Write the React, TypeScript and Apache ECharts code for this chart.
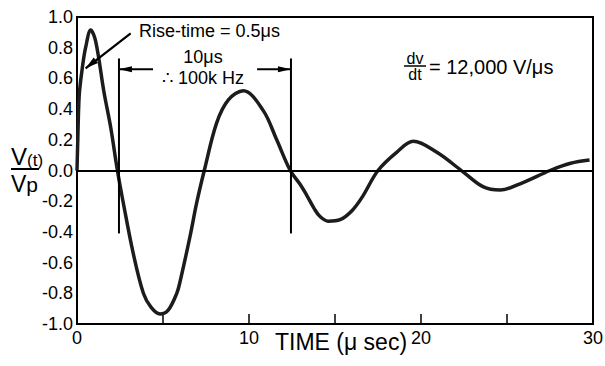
import React, { useEffect, useRef } from "react";
import * as echarts from "echarts";

// Time axis (µs) and normalised voltage V(t)/Vp
const timeUs = [
  0, 0.05, 0.1, 0.15, 0.31, 0.5, 0.8, 1.09, 1.57, 1.96, 2.35, 2.69, 3.27, 3.86, 4.3, 4.83,
  5.3, 5.8, 6.0, 6.57, 6.96, 7.4, 8.12, 8.8, 9.67, 10.83, 11.61, 12.4, 12.97, 13.35, 13.8,
  14.13, 14.6, 15.3, 16.0, 16.6, 17.5, 18.6, 19.55, 20.9, 22.46, 23.6, 24.6, 25.9, 27.5,
  28.7, 29.8,
];
const voltage = [
  0, 0.22, 0.42, 0.52, 0.67, 0.8, 0.915, 0.84, 0.51, 0.28, 0.0, -0.21, -0.54, -0.8, -0.89,
  -0.935, -0.91, -0.8, -0.72, -0.43, -0.21, 0.0, 0.31, 0.46, 0.52, 0.39, 0.2, 0.0, -0.09,
  -0.16, -0.25, -0.3, -0.33, -0.32, -0.26, -0.17, 0.0, 0.12, 0.19, 0.12, -0.01, -0.105,
  -0.127, -0.08, 0.0, 0.047, 0.068,
];

// Axis settings
const xMin = 0;
const xMax = 30;
const xStep = 5;
const xLabelled = [0, 10, 20, 30];
const yMin = -1;
const yMax = 1;
const yStep = 0.2;

// Annotation anchors (data coordinates)
const periodMarkers = [2.44, 12.44];
const markerTop = 0.73;
const markerBottom = -0.41;
const arrowLevel = 0.66;
const arrowLeftTail = 4.42;
const arrowRightTail = 10.47;
const riseArrowFrom = [3.12, 0.894];
const riseArrowTo = [0.5, 0.666];

const FONT = "'Liberation Sans', Arial, Helvetica, sans-serif";

function arrowHead(tail: number[], tip: number[], len: number, wid: number) {
  const dx = tip[0] - tail[0];
  const dy = tip[1] - tail[1];
  const d = Math.hypot(dx, dy) || 1;
  const ux = dx / d;
  const uy = dy / d;
  const bx = tip[0] - ux * len;
  const by = tip[1] - uy * len;
  const nx = -uy * (wid / 2);
  const ny = ux * (wid / 2);
  return [
    [tip[0], tip[1]],
    [bx + nx, by + ny],
    [bx - nx, by - ny],
  ];
}

export default function App() {
  const ref = useRef<HTMLDivElement>(null);

  useEffect(() => {
    if (!ref.current) return;
    const chart = echarts.init(ref.current, null, { renderer: "svg" });
    const data = timeUs.map((t, i) => [t, voltage[i]]);

    chart.setOption({
      animation: false,
      backgroundColor: "#ffffff",
      grid: {
        left: 77,
        right: 12,
        top: 17,
        bottom: 42,
        show: true,
        borderColor: "#000",
        borderWidth: 2,
        backgroundColor: "transparent",
        containLabel: false,
        outerBoundsMode: "none",
      },
      xAxis: {
        type: "value",
        min: xMin,
        max: xMax,
        interval: xStep,
        axisLine: { show: true, onZero: false, lineStyle: { color: "#000", width: 2 } },
        axisTick: { show: true, inside: true, length: 10, lineStyle: { color: "#000", width: 1.5 } },
        splitLine: { show: false },
        axisLabel: {
          color: "#000",
          fontFamily: FONT,
          fontSize: 18,
          margin: 5,
          formatter: (v: number) => (xLabelled.includes(v) ? String(v) : ""),
        },
        name: "TIME (\u03bc sec)",
        nameLocation: "middle",
        nameGap: 6,
        nameMoveOverlap: false,
        nameTextStyle: {
          color: "#000",
          fontFamily: FONT,
          fontSize: 23,
          verticalAlign: "top",
          padding: [0, 0, 0, 12],
        },
      },
      yAxis: {
        type: "value",
        min: yMin,
        max: yMax,
        interval: yStep,
        axisLine: { show: true, onZero: false, lineStyle: { color: "#000", width: 2 } },
        axisTick: { show: false },
        splitLine: { show: false },
        axisLabel: {
          color: "#000",
          fontFamily: FONT,
          fontSize: 18,
          margin: 4,
          formatter: (v: number) => v.toFixed(1),
        },
      },
      series: [
        {
          type: "line",
          data,
          smooth: 0.35,
          showSymbol: false,
          symbol: "none",
          lineStyle: { color: "#1c1c1c", width: 3.5 },
          markLine: {
            silent: true,
            symbol: "none",
            label: { show: false },
            lineStyle: { color: "#000", width: 2, type: "solid" },
            data: [{ yAxis: 0 }],
          },
          z: 3,
        },
      ],
    });

    const px = (p: number[]) => chart.convertToPixel({ gridIndex: 0 }, p) as number[];

    const graphics: any[] = [];
    periodMarkers.forEach((t) => {
      const a = px([t, markerTop]);
      const b = px([t, markerBottom]);
      graphics.push({
        type: "line",
        shape: { x1: a[0], y1: a[1], x2: b[0], y2: b[1] },
        style: { stroke: "#000", lineWidth: 2 },
        z: 10,
      });
    });
    const leftTip = px([periodMarkers[0], arrowLevel]);
    const leftTail = px([arrowLeftTail, arrowLevel]);
    const rightTip = px([periodMarkers[1], arrowLevel]);
    const rightTail = px([arrowRightTail, arrowLevel]);
    [
      [leftTail, leftTip],
      [rightTail, rightTip],
    ].forEach(([tail, tip]) => {
      graphics.push({
        type: "line",
        shape: { x1: tail[0], y1: tail[1], x2: tip[0], y2: tip[1] },
        style: { stroke: "#000", lineWidth: 2 },
        z: 10,
      });
      graphics.push({
        type: "polygon",
        shape: { points: arrowHead(tail, tip, 13, 6) },
        style: { fill: "#000" },
        z: 10,
      });
    });
    const rFrom = px(riseArrowFrom);
    const rTo = px(riseArrowTo);
    graphics.push({
      type: "line",
      shape: { x1: rFrom[0], y1: rFrom[1], x2: rTo[0], y2: rTo[1] },
      style: { stroke: "#000", lineWidth: 2.2 },
      z: 10,
    });
    graphics.push({
      type: "polygon",
      shape: { points: arrowHead(rFrom, rTo, 13, 7) },
      style: { fill: "#000" },
      z: 10,
    });

    const txt = (text: string, x: number, y: number, size: number, align = "left") => ({
      type: "text",
      x,
      y,
      z: 11,
      style: {
        text,
        fill: "#000",
        font: `${size}px ${FONT}`,
        align,
        verticalAlign: "middle",
      },
    });

    graphics.push(txt("Rise-time = 0.5\u03bcs", 139, 31, 18));
    graphics.push(txt("10\u03bcs", 203, 57, 18, "center"));
    graphics.push(txt("\u2234 100k Hz", 203, 78, 18, "center"));
    graphics.push(txt("dv", 415, 58, 16, "center"));
    graphics.push({
      type: "line",
      shape: { x1: 404, y1: 66, x2: 426, y2: 66 },
      style: { stroke: "#000", lineWidth: 1.5 },
      z: 11,
    });
    graphics.push(txt("dt", 415, 74, 16, "center"));
    graphics.push(txt("= 12,000 V/\u03bcs", 429, 67, 20));

    graphics.push({
      type: "text",
      x: 11,
      y: 156,
      z: 11,
      style: {
        text: "{v|V}{s|(t)}",
        verticalAlign: "middle",
        rich: {
          v: { fontFamily: FONT, fontSize: 24, fill: "#000", color: "#000" },
          s: { fontFamily: FONT, fontSize: 17, fill: "#000", color: "#000", padding: [8, 0, 0, 0] },
        },
      },
    });
    graphics.push({
      type: "line",
      shape: { x1: 11, y1: 169, x2: 39, y2: 169 },
      style: { stroke: "#000", lineWidth: 2 },
      z: 11,
    });
    graphics.push({
      type: "text",
      x: 11,
      y: 184,
      z: 11,
      style: {
        text: "{v|V}{p|p}",
        verticalAlign: "middle",
        rich: {
          v: { fontFamily: FONT, fontSize: 23, fill: "#000", color: "#000" },
          p: { fontFamily: FONT, fontSize: 21, fill: "#000", color: "#000" },
        },
      },
    });

    chart.setOption({ graphic: graphics });

    return () => chart.dispose();
  }, []);

  return (
    <div
      ref={ref}
      style={{ position: "fixed", left: 0, top: 0, width: 605, height: 366, background: "#fff" }}
    />
  );
}
